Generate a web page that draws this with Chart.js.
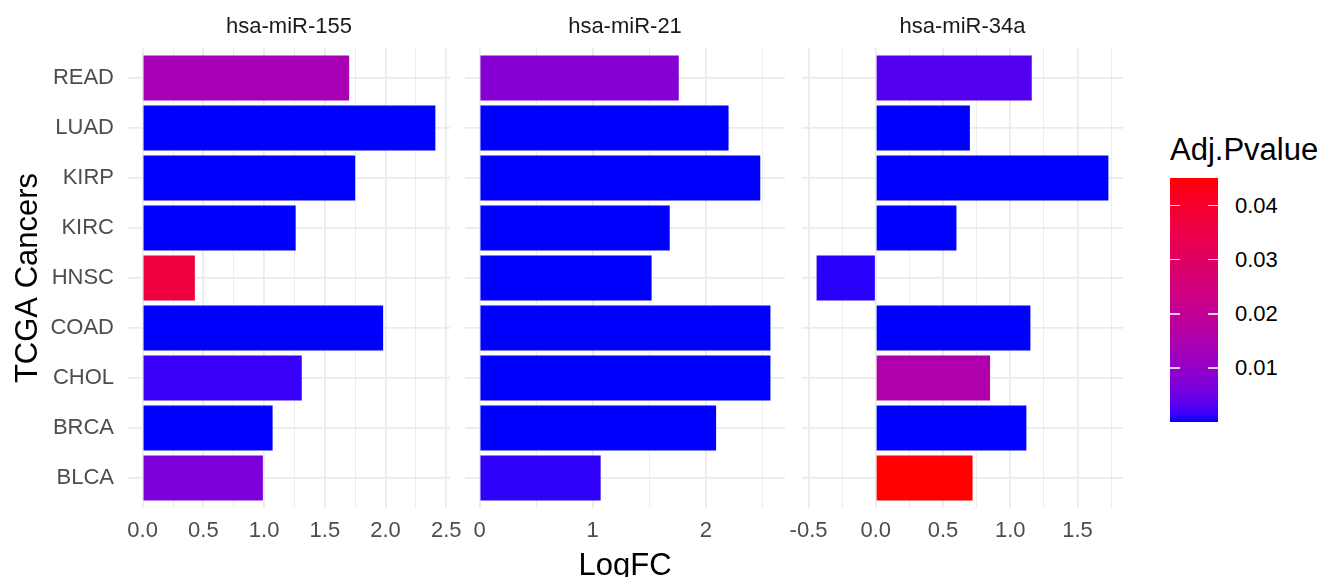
<!DOCTYPE html>
<html>
<head>
<meta charset="utf-8">
<script src="https://cdn.jsdelivr.net/npm/chart.js@4.4.0/dist/chart.umd.min.js"></script>
<style>
  body { margin: 0; background: #fff; width: 1320px; height: 577px; overflow: hidden; position: relative;
         font-family: "Liberation Sans", Arial, sans-serif; }
  canvas { position: absolute; top: 0; }
  #legend div { position: absolute; }
</style>
</head>
<body>
<canvas id="p1" width="480" height="577" style="left:0px"></canvas>
<canvas id="p2" width="380" height="577" style="left:435px"></canvas>
<canvas id="p3" width="381" height="577" style="left:772px"></canvas>
<div id="legend"></div>
<script>
// data, top to bottom as drawn
const categories = ["READ", "LUAD", "KIRP", "KIRC", "HNSC", "COAD", "CHOL", "BRCA", "BLCA"];
const mirnas = ["hsa-miR-155", "hsa-miR-21", "hsa-miR-34a"];

const logfc155 = [1.70, 2.41, 1.75, 1.26, 0.43, 1.98, 1.31, 1.07, 0.99];
const logfc21 = [1.76, 2.20, 2.48, 1.68, 1.52, 2.57, 2.57, 2.09, 1.07];
const logfc34a = [1.16, 0.70, 1.73, 0.60, -0.44, 1.15, 0.85, 1.12, 0.72];

const pval155 = [0.0140, 0.000001, 0.000002, 0.000001, 0.0370, 0.000001, 0.00125, 0.000001, 0.0068];
const pval21 = [0.0080, 0.000001, 0.000001, 0.000001, 0.000001, 0.000001, 0.000001, 0.000001, 0.0009];
const pval34a = [0.0028, 0.000001, 0.000001, 0.000001, 0.0007, 0.000001, 0.0158, 0.000001, 0.0451];

const legendTicks = [0.01, 0.02, 0.03, 0.04];

Chart.defaults.font.family = '"Liberation Sans", Arial, sans-serif';

// blue -> red gradient interpolated in Lab, like ggplot
function toLin(c) { c /= 255; return c <= 0.04045 ? c / 12.92 : Math.pow((c + 0.055) / 1.055, 2.4); }
function rgbToLab(rgb) {
  const r = toLin(rgb[0]), g = toLin(rgb[1]), b = toLin(rgb[2]);
  const x = (0.4124 * r + 0.3576 * g + 0.1805 * b) / 0.95047;
  const y = 0.2126 * r + 0.7152 * g + 0.0722 * b;
  const z = (0.0193 * r + 0.1192 * g + 0.9505 * b) / 1.08883;
  const f = t => t > 0.008856 ? Math.cbrt(t) : 7.787 * t + 16 / 116;
  return [116 * f(y) - 16, 500 * (f(x) - f(y)), 200 * (f(y) - f(z))];
}
function labToRgb(lab) {
  const fy = (lab[0] + 16) / 116, fx = fy + lab[1] / 500, fz = fy - lab[2] / 200;
  const fi = t => t > 0.206893 ? t * t * t : (t - 16 / 116) / 7.787;
  const x = 0.95047 * fi(fx), y = fi(fy), z = 1.08883 * fi(fz);
  const lin = [3.2406 * x - 1.5372 * y - 0.4986 * z, -0.9689 * x + 1.8758 * y + 0.0415 * z, 0.0557 * x - 0.2040 * y + 1.0570 * z];
  const g = c => { c = Math.min(1, Math.max(0, c)); return Math.round(255 * (c <= 0.0031308 ? 12.92 * c : 1.055 * Math.pow(c, 1 / 2.4) - 0.055)); };
  return "rgb(" + lin.map(g).join(",") + ")";
}
const lowLab = rgbToLab([0, 0, 255]), highLab = rgbToLab([255, 0, 0]);
const allP = pval155.concat(pval21, pval34a);
const pmin = Math.min(...allP), pmax = Math.max(...allP);
function colorAt(t) { return labToRgb(lowLab.map((v, i) => v + (highLab[i] - v) * t)); }
function fillFor(p) { return colorAt((p - pmin) / (pmax - pmin)); }

// facet strip label above each panel
const strip = {
  id: "strip",
  afterDraw(chart, args, opts) {
    const { ctx, chartArea } = chart;
    ctx.save();
    ctx.font = '22px "Liberation Sans", Arial, sans-serif';
    ctx.fillStyle = "#1a1a1a";
    ctx.textAlign = "center";
    ctx.textBaseline = "alphabetic";
    ctx.fillText(opts.text, (chartArea.left + chartArea.right) / 2, 33);
    ctx.restore();
  }
};

const panels = [
  { id: "p1", title: mirnas[0], values: logfc155, pvals: pval155, step: 0.25, major: 0.5, digits: 1 },
  { id: "p2", title: mirnas[1], values: logfc21, pvals: pval21, step: 0.5, major: 1, digits: 0 },
  { id: "p3", title: mirnas[2], values: logfc34a, pvals: pval34a, step: 0.25, major: 0.5, digits: 1 }
];

panels.forEach((p, idx) => {
  const lo = Math.min(0, ...p.values), hi = Math.max(0, ...p.values), pad = (hi - lo) * 0.05;
  const isMajor = v => Math.abs(v / p.major - Math.round(v / p.major)) < 1e-6;
  new Chart(document.getElementById(p.id), {
    type: "bar",
    data: {
      datasets: [{
        data: p.values.map((v, i) => ({ x: v, y: i })),
        backgroundColor: p.pvals.map(fillFor),
        borderWidth: 0,
        barPercentage: 0.9,
        categoryPercentage: 1
      }]
    },
    options: {
      indexAxis: "y",
      responsive: false,
      animation: false,
      layout: { padding: { top: 48, bottom: 0, left: idx === 0 ? 0 : 30, right: 30 } },
      plugins: { legend: { display: false }, tooltip: { enabled: false }, strip: { text: p.title } },
      scales: {
        x: {
          type: "linear",
          min: lo - pad,
          max: hi + pad,
          border: { display: false },
          grid: { color: "#ebebeb", drawTicks: false, lineWidth: c => (c.tick && isMajor(c.tick.value)) ? 1.8 : 0.9 },
          ticks: {
            stepSize: p.step, includeBounds: false, autoSkip: false, maxRotation: 0,
            padding: 10, color: "#4d4d4d", font: { size: 22 },
            callback: v => isMajor(v) ? v.toFixed(p.digits) : ""
          },
          title: { display: idx === 1, text: "LogFC", color: "#000", font: { size: 31 }, padding: { top: 0, bottom: -8 } },
          afterFit: s => { s.height = 69; }
        },
        y: {
          type: "linear",
          reverse: true,
          min: -0.6,
          max: 8.6,
          offset: false,
          border: { display: false },
          grid: { color: "#ebebeb", lineWidth: 1.8, drawTicks: false, offset: false },
          ticks: {
            display: idx === 0, stepSize: 1, includeBounds: false, autoSkip: false,
            padding: 14, color: "#4d4d4d", font: { size: 22 },
            callback: v => categories[Math.round(v)] || ""
          },
          title: { display: idx === 0, text: "TCGA Cancers", color: "#000", font: { size: 31 }, padding: { top: 10, bottom: 0 } },
          afterFit: s => { s.width = idx === 0 ? 128 : 0; }
        }
      }
    },
    plugins: [strip]
  });
});

// colour bar legend
const legend = document.getElementById("legend");
const barLeft = 1170, barTop = 178, barW = 48, barH = 244;
const stops = [];
for (let i = 0; i <= 30; i++) stops.push(colorAt(i / 30) + " " + (i / 30 * 100).toFixed(1) + "%");
let html = '<div style="left:1170px;top:133px;font-size:31px;line-height:34px;color:#000">Adj.Pvalue</div>';
html += '<div style="left:' + barLeft + 'px;top:' + barTop + 'px;width:' + barW + 'px;height:' + barH +
        'px;background:linear-gradient(to top,' + stops.join(",") + ')"></div>';
legendTicks.forEach(v => {
  const y = barTop + barH - (v - pmin) / (pmax - pmin) * barH;
  html += '<div style="left:' + barLeft + 'px;top:' + (y - 0.75) + 'px;width:10px;height:1.5px;background:rgba(255,255,255,0.8)"></div>';
  html += '<div style="left:' + (barLeft + barW - 10) + 'px;top:' + (y - 0.75) + 'px;width:10px;height:1.5px;background:rgba(255,255,255,0.8)"></div>';
  html += '<div style="left:1235px;top:' + (y - 11) + 'px;font-size:22px;line-height:22px;color:#000">' + v.toFixed(2) + '</div>';
});
legend.innerHTML = html;
</script>
</body>
</html>
